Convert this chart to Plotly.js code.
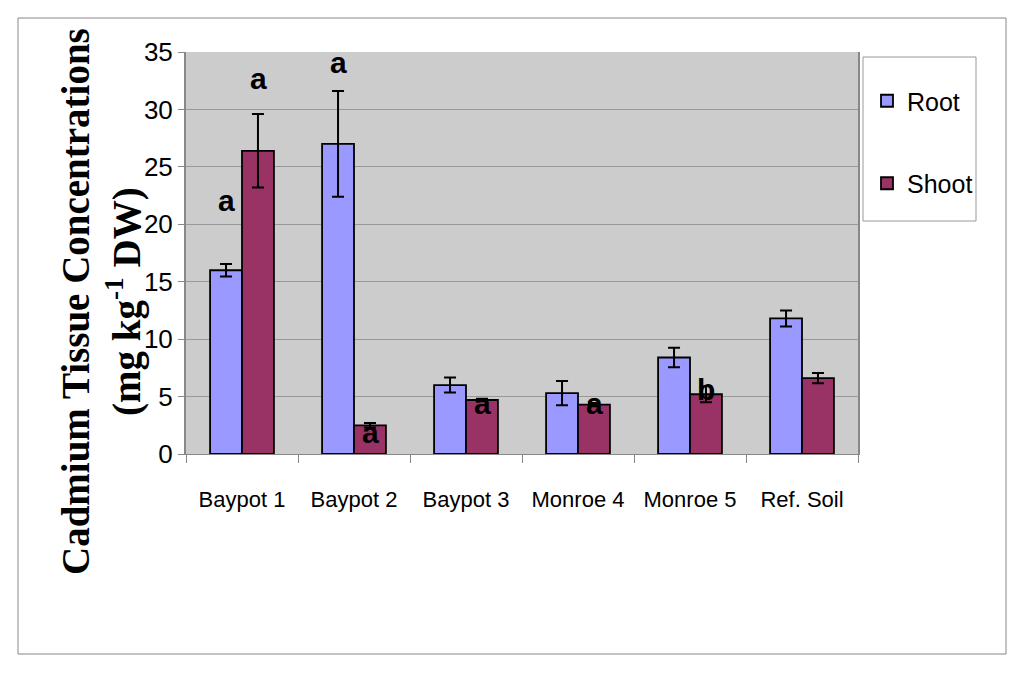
<!DOCTYPE html>
<html>
<head>
<meta charset="utf-8">
<script src="https://cdn.plot.ly/plotly-3.0.1.min.js"></script>
<style>
  body { margin: 0; background: #fff; }
  #chart { width: 1024px; height: 673px; }
</style>
</head>
<body>
<div id="chart"></div>
<script>
// sites
var sites = ['Baypot 1', 'Baypot 2', 'Baypot 3', 'Monroe 4', 'Monroe 5', 'Ref. Soil'];

// Cd concentrations (mg/kg DW)
var rootVals = [16.0, 27.0, 6.0, 5.3, 8.4, 11.8];
var rootErr = [0.55, 4.6, 0.65, 1.05, 0.85, 0.7];
var shootVals = [26.4, 2.5, 4.7, 4.3, 5.2, 6.6];
var shootErr = [3.2, 0.2, 0.1, 0.15, 0.7, 0.45];

// significance letters: site index, series, letter, height
var letterSite = [0, 0, 1, 1, 2, 3, 4];
var letterSeries = ['Root', 'Shoot', 'Root', 'Shoot', 'Shoot', 'Shoot', 'Shoot'];
var letterText = ['a', 'a', 'a', 'a', 'a', 'a', 'b'];
var letterY = [22.1, 32.7, 34.1, 1.9, 4.4, 4.4, 5.6];

var sans = '"Liberation Sans", Arial, sans-serif';

function px2x(p) { return (p - 186) / 672; }
function px2y(p) { return (454 - p) / 402; }

var trace1 = {
    x: sites, y: rootVals,
    name: 'Root',
    type: 'bar',
    legendgroup: 'r',
    marker: { color: '#9999ff', line: { color: '#000', width: 1.8 } },
    error_y: { type: 'data', array: rootErr, visible: true, color: '#000', thickness: 2, width: 6 }
};
var trace2 = {
    x: sites, y: shootVals,
    name: 'Shoot',
    type: 'bar',
    legendgroup: 's',
    marker: { color: '#993366', line: { color: '#000', width: 1.8 } },
    error_y: { type: 'data', array: shootErr, visible: true, color: '#000', thickness: 2, width: 6 }
};

var annos = [];
for (let i = 0; i < letterText.length; i++) {
    annos.push({
        x: sites[letterSite[i]], y: letterY[i],
        xref: 'x', yref: 'y',
        xshift: letterSeries[i] == 'Root' ? -16 : 16,
        text: '<b>' + letterText[i] + '</b>',
        showarrow: false,
        font: { family: sans, size: 30, color: '#000' }
    });
}
// y axis title, two lines
annos.push({
    x: px2x(101), y: px2y(302), xref: 'paper', yref: 'paper',
    xanchor: 'center', yanchor: 'middle',
    text: '<b>Cadmium Tissue Concentrations<br>(mg kg<sup>-1</sup> DW)</b>',
    textangle: -90,
    showarrow: false,
    font: { family: '"Liberation Serif", "Times New Roman", serif', size: 39, color: '#000' }
});

var layout = {
    width: 1024,
    height: 673,
    margin: { l: 186, r: 166, t: 52, b: 219 },
    paper_bgcolor: '#fff',
    plot_bgcolor: '#cccccc',
    barmode: 'group',
    bargap: 0.43,
    bargroupgap: 0,
    showlegend: true,
    legend: {
        x: px2x(867), y: px2y(78), xanchor: 'left', yanchor: 'top',
        borderwidth: 0, bgcolor: 'rgba(0,0,0,0)',
        font: { family: sans, size: 25, color: '#000' },
        tracegroupgap: 47,
        traceorder: 'grouped',
        itemwidth: 30
    },
    xaxis: {
        type: 'category',
        tickson: 'boundaries',
        ticks: 'outside', ticklen: 8, tickcolor: '#888',
        showline: true, linecolor: '#888', linewidth: 1,
        tickfont: { family: sans, size: 22, color: '#000' },
        ticklabelstandoff: 26,
        showgrid: false
    },
    yaxis: {
        range: [0, 35],
        dtick: 5,
        ticks: 'outside', ticklen: 6, tickcolor: '#888',
        showline: true, linecolor: '#888', linewidth: 2, mirror: true,
        gridcolor: '#999', gridwidth: 1,
        tickfont: { family: sans, size: 26, color: '#000' },
        zeroline: false
    },
    annotations: annos,
    shapes: [{
        type: 'rect', xref: 'paper', yref: 'paper',
        x0: px2x(18), x1: px2x(1006),
        y0: px2y(654), y1: px2y(18),
        line: { color: '#888', width: 1 }
    }, {
        type: 'rect', xref: 'paper', yref: 'paper',
        x0: px2x(863), x1: px2x(976),
        y0: px2y(221), y1: px2y(57),
        fillcolor: '#fff',
        layer: 'below',
        line: { color: '#999', width: 1 }
    }]
};

Plotly.newPlot('chart', [trace1, trace2], layout, { displayModeBar: false });
</script>
</body>
</html>
